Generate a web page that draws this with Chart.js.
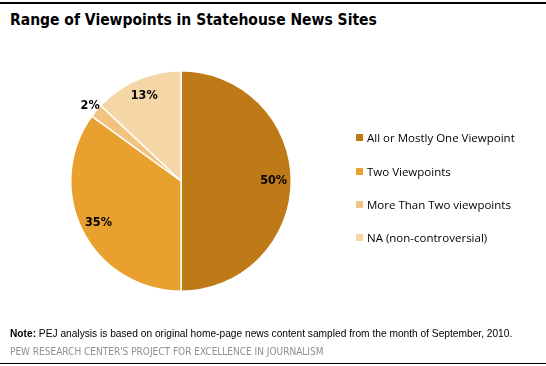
<!DOCTYPE html>
<html>
<head>
<meta charset="utf-8">
<script src="https://cdn.jsdelivr.net/npm/chart.js@4"></script>
<style>
  body { margin: 0; background: #fff; }
  #wrap { position: relative; width: 546px; height: 366px; overflow: hidden; }
  #topline { position: absolute; left: 0; top: 2px; width: 546px; height: 2px; background: #000; }
  #botline { position: absolute; left: 0; top: 363px; width: 546px; height: 1px; background: #000; }
  #titulo { position: absolute; left: 10px; top: 11px; font: bold 15.5px "DejaVu Sans Condensed", "DejaVu Sans", sans-serif; color: #000; white-space: nowrap; }
  #nota { position: absolute; left: 10px; top: 328px; font: 10.2px "Liberation Sans", sans-serif; color: #000; white-space: nowrap; }
  #pie { position: absolute; left: 10px; top: 346px; font: 10px "DejaVu Sans Condensed", "DejaVu Sans", sans-serif; color: #8f8f8f; white-space: nowrap; }
  #leyenda { position: absolute; left: 356px; top: 0; }
  .item { position: absolute; left: 0; white-space: nowrap; font: 11.5px "Open Sans", sans-serif; color: #000; }
  .item span { display: inline-block; width: 7px; height: 7px; margin-right: 4px; vertical-align: 1px; }
  canvas { position: absolute; left: 0; top: 0; }
</style>
</head>
<body>
<div id="wrap">
  <div id="topline"></div>
  <div id="titulo">Range of Viewpoints in Statehouse News Sites</div>
  <canvas id="grafico" width="546" height="366"></canvas>
  <div id="leyenda"></div>
  <div id="nota"><b>Note:</b> PEJ analysis is based on original home-page news content sampled from the month of September, 2010.</div>
  <div id="pie">PEW RESEARCH CENTER'S PROJECT FOR EXCELLENCE IN JOURNALISM</div>
  <div id="botline"></div>
</div>
<script>
// datos del gráfico
var categorias = ["All or Mostly One Viewpoint", "Two Viewpoints", "More Than Two viewpoints", "NA (non-controversial)"];
var valores = [50, 35, 2, 13];
var etiquetas = ["50%", "35%", "2%", "13%"];
var colores = ["#bd7a17", "#e8a02f", "#f2c27f", "#f5d6a6"];

// leyenda a mano
function cargaLeyenda() {
  var posY = [130, 164, 197, 230];
  var leyenda = document.getElementById("leyenda");
  for (var i = 0; i < categorias.length; i++) {
    var div = document.createElement("div");
    div.className = "item";
    div.style.top = posY[i] + "px";
    div.innerHTML = '<span style="background:' + colores[i] + '"></span>' + categorias[i];
    leyenda.appendChild(div);
  }
}

// etiquetas de porcentaje sobre cada porción
var pluginEtiquetas = {
  id: "etiquetas",
  afterDatasetsDraw: function (chart) {
    var ctx = chart.ctx;
    var arcos = chart.getDatasetMeta(0).data;
    ctx.save();
    ctx.font = "bold 12.5px 'DejaVu Sans Condensed', 'DejaVu Sans', sans-serif";
    ctx.fillStyle = "#000";
    ctx.textAlign = "center";
    ctx.textBaseline = "middle";
    arcos.forEach(function (arco, i) {
      var medio = (arco.startAngle + arco.endAngle) / 2;
      var r = arco.outerRadius * (valores[i] < 5 ? 1.07 : 0.84);
      ctx.fillText(etiquetas[i], arco.x + Math.cos(medio) * r, arco.y + Math.sin(medio) * r);
    });
    ctx.restore();
  }
};

function cargaGraficoTarta() {
  var config = {
    type: "pie",
    data: {
      labels: categorias,
      datasets: [{
        data: valores,
        backgroundColor: colores,
        borderColor: "#fff",
        borderWidth: 1.5
      }]
    },
    options: {
      responsive: false,
      animation: false,
      layout: { padding: { left: 70, right: 254, top: 70, bottom: 74 } },
      plugins: {
        legend: { display: false },
        tooltip: { enabled: false }
      }
    },
    plugins: [pluginEtiquetas]
  };
  var ctx = document.getElementById("grafico").getContext("2d");
  new Chart(ctx, config);
}

cargaLeyenda();
cargaGraficoTarta();
</script>
</body>
</html>
